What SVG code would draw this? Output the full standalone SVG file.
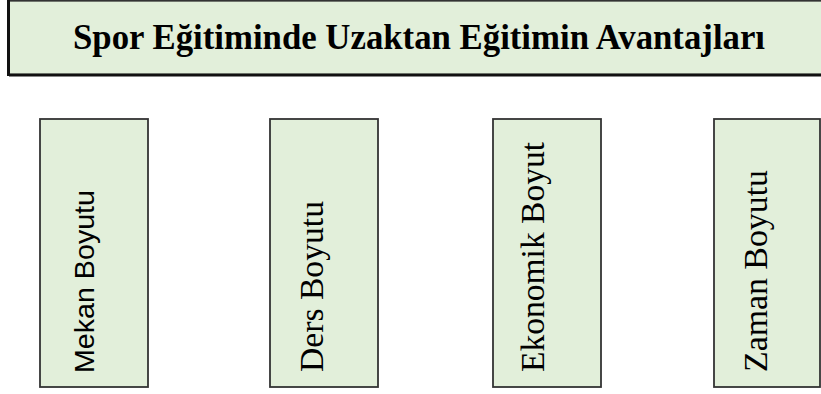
<svg xmlns="http://www.w3.org/2000/svg" width="821" height="394" viewBox="0 0 821 394">
<style>
.box{fill:#E2EFDA;stroke:#333;stroke-width:1.8}
.serif{font-family:"Liberation Serif","Times New Roman",serif;fill:#000}
.sans{font-family:"Liberation Sans",Arial,sans-serif;fill:#000}
</style>
<rect width="821" height="394" fill="#fff"/>
<g id="title">
<rect class="box" x="9" y="0.75" width="830" height="74"/>
<line x1="9" y1="75" x2="821" y2="75" stroke="#111" stroke-width="3"/>
<line x1="8.5" y1="0" x2="8.5" y2="76" stroke="#111" stroke-width="3"/>
<text class="serif" x="73" y="49" font-size="36" font-weight="bold" textLength="692" lengthAdjust="spacingAndGlyphs">Spor Eğitiminde Uzaktan Eğitimin Avantajları</text>
</g>
<g id="connectors"></g>
<g id="mekan">
<rect class="box" x="40" y="119" width="108" height="268"/>
<text class="sans" transform="translate(94,373) rotate(-90)" font-size="28.5" textLength="183" lengthAdjust="spacingAndGlyphs">Mekan Boyutu</text>
</g>
<g id="ders">
<rect class="box" x="270" y="119" width="108" height="268"/>
<text class="serif" transform="translate(323,372) rotate(-90)" font-size="34" textLength="171" lengthAdjust="spacingAndGlyphs">Ders Boyutu</text>
</g>
<g id="ekonomik">
<rect class="box" x="493" y="119" width="108" height="268"/>
<text class="serif" transform="translate(544,372) rotate(-90)" font-size="34" textLength="230" lengthAdjust="spacingAndGlyphs">Ekonomik Boyut</text>
</g>
<g id="zaman">
<rect class="box" x="714" y="119" width="106" height="268"/>
<text class="serif" transform="translate(767,372) rotate(-90)" font-size="34" textLength="202" lengthAdjust="spacingAndGlyphs">Zaman Boyutu</text>
</g>
</svg>
